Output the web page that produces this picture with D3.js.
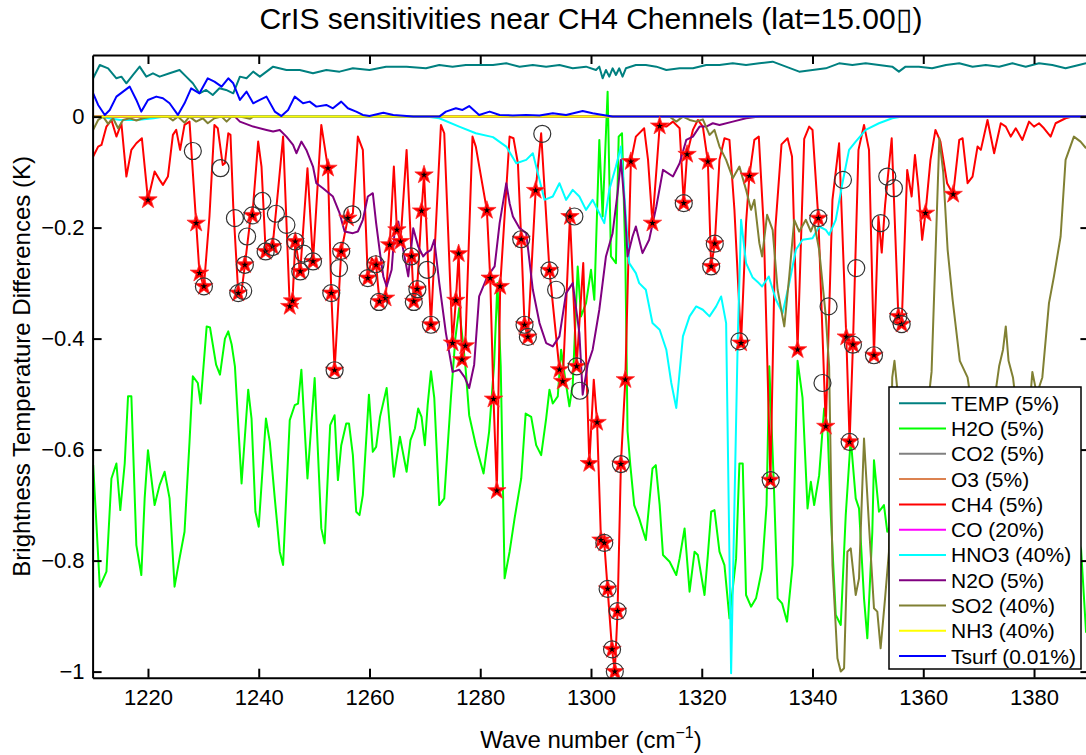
<!DOCTYPE html>
<html>
<head>
<meta charset="utf-8">
<script src="https://cdn.jsdelivr.net/npm/d3@7"></script>
<style>
  body { margin: 0; background: #fff; }
  text { font-family: 'Liberation Sans', Arial, Helvetica, sans-serif; }
</style>
</head>
<body>
<div id="chart"></div>
<script>
// wave number (cm-1), brightness temperature difference (K)
const tempData = [[1210.1,0.069],[1211.3,0.093],[1212.8,0.087],[1214.3,0.069],[1215.2,0.072],[1216.1,0.060],[1217.3,0.075],[1218.5,0.090],[1219.7,0.072],[1220.9,0.078],[1222.1,0.072],[1223.9,0.078],[1225.7,0.084],[1226.9,0.072],[1228.1,0.060],[1229.3,0.042],[1230.5,0.048],[1231.7,0.039],[1232.9,0.051],[1234.1,0.048],[1235.4,0.042],[1236.6,0.072],[1237.8,0.069],[1239.0,0.081],[1240.2,0.072],[1242.6,0.090],[1245.0,0.084],[1247.4,0.084],[1249.8,0.078],[1252.2,0.084],[1254.6,0.081],[1257.0,0.087],[1260.0,0.084],[1263.0,0.090],[1266.7,0.090],[1270.2,0.087],[1272.6,0.093],[1275.0,0.090],[1277.4,0.093],[1279.8,0.093],[1282.3,0.093],[1284.7,0.096],[1287.1,0.090],[1289.5,0.093],[1291.9,0.090],[1294.3,0.093],[1296.7,0.087],[1299.1,0.090],[1300.9,0.084],[1301.5,0.090],[1302.1,0.069],[1302.7,0.084],[1303.3,0.072],[1303.9,0.087],[1304.5,0.075],[1305.1,0.087],[1305.7,0.072],[1306.3,0.087],[1308.1,0.093],[1309.9,0.093],[1311.8,0.090],[1313.6,0.084],[1316.0,0.087],[1318.4,0.087],[1320.8,0.093],[1323.2,0.093],[1325.6,0.096],[1328.0,0.093],[1330.4,0.096],[1332.8,0.099],[1335.2,0.090],[1337.6,0.081],[1340.0,0.084],[1342.4,0.087],[1344.8,0.096],[1347.2,0.093],[1349.6,0.096],[1352.0,0.093],[1354.4,0.090],[1355.6,0.081],[1356.8,0.090],[1359.2,0.090],[1361.6,0.087],[1364.1,0.093],[1366.5,0.096],[1368.9,0.090],[1371.3,0.093],[1373.7,0.090],[1376.1,0.096],[1378.5,0.090],[1380.9,0.096],[1383.3,0.093],[1385.7,0.087],[1388.1,0.093],[1389.4,0.096]];

const h2oData = [[1210.1,-0.628],[1210.7,-0.736],[1211.3,-0.847],[1212.5,-0.820],[1213.4,-0.652],[1214.3,-0.625],[1215.0,-0.709],[1215.8,-0.625],[1216.4,-0.504],[1217.0,-0.504],[1217.9,-0.772],[1218.8,-0.826],[1219.4,-0.688],[1220.0,-0.601],[1221.2,-0.700],[1222.1,-0.664],[1223.0,-0.640],[1223.9,-0.688],[1224.8,-0.847],[1225.7,-0.796],[1226.6,-0.748],[1227.5,-0.586],[1228.1,-0.468],[1229.0,-0.480],[1229.5,-0.517],[1230.6,-0.378],[1231.2,-0.380],[1232.3,-0.447],[1233.0,-0.465],[1233.9,-0.400],[1234.5,-0.387],[1235.1,-0.410],[1235.7,-0.450],[1236.9,-0.661],[1238.1,-0.492],[1238.7,-0.544],[1239.4,-0.712],[1240.0,-0.739],[1241.3,-0.544],[1242.0,-0.586],[1242.9,-0.688],[1243.8,-0.784],[1244.4,-0.808],[1245.6,-0.547],[1246.5,-0.520],[1247.1,-0.517],[1247.7,-0.456],[1248.8,-0.652],[1250.1,-0.471],[1251.3,-0.742],[1251.9,-0.769],[1252.9,-0.556],[1253.7,-0.538],[1254.3,-0.655],[1254.9,-0.592],[1255.8,-0.553],[1256.3,-0.553],[1257.0,-0.610],[1257.6,-0.712],[1258.2,-0.718],[1258.8,-0.682],[1259.9,-0.501],[1260.6,-0.604],[1261.2,-0.595],[1261.9,-0.541],[1263.1,-0.489],[1264.4,-0.649],[1265.5,-0.577],[1266.7,-0.640],[1267.4,-0.583],[1268.2,-0.562],[1268.8,-0.526],[1269.4,-0.541],[1270.0,-0.592],[1270.5,-0.520],[1271.1,-0.459],[1271.7,-0.507],[1272.6,-0.700],[1273.5,-0.688],[1274.7,-0.507],[1275.5,-0.400],[1276.2,-0.345],[1276.8,-0.400],[1277.3,-0.447],[1278.0,-0.538],[1279.2,-0.592],[1280.6,-0.643],[1281.6,-0.568],[1282.5,-0.447],[1283.1,-0.300],[1283.7,-0.450],[1284.4,-0.832],[1285.3,-0.784],[1286.2,-0.724],[1287.4,-0.652],[1288.2,-0.535],[1289.2,-0.541],[1290.1,-0.592],[1291.0,-0.610],[1291.9,-0.544],[1292.5,-0.492],[1293.1,-0.517],[1294.0,-0.504],[1294.6,-0.420],[1295.5,-0.483],[1296.1,-0.522],[1296.7,-0.483],[1297.6,-0.270],[1298.2,-0.360],[1299.1,-0.336],[1300.0,-0.276],[1300.6,-0.330],[1301.5,-0.042],[1302.1,-0.180],[1303.0,0.045],[1303.6,-0.252],[1304.5,-0.264],[1305.0,-0.036],[1305.6,-0.030],[1306.2,-0.252],[1306.6,-0.567],[1307.1,-0.628],[1307.8,-0.700],[1308.7,-0.724],[1309.9,-0.763],[1311.1,-0.634],[1311.7,-0.628],[1312.4,-0.700],[1313.0,-0.790],[1314.2,-0.802],[1315.4,-0.826],[1316.0,-0.796],[1316.9,-0.742],[1317.8,-0.856],[1318.7,-0.784],[1319.3,-0.790],[1320.5,-0.862],[1321.1,-0.790],[1321.7,-0.712],[1322.3,-0.709],[1323.2,-0.784],[1324.1,-0.808],[1325.0,-0.904],[1326.2,-0.796],[1326.8,-0.625],[1327.4,-0.625],[1328.0,-0.862],[1328.9,-0.883],[1329.8,-0.868],[1330.3,-0.844],[1330.9,-0.814],[1331.7,-0.700],[1332.2,-0.450],[1333.0,-0.658],[1333.7,-0.868],[1334.5,-0.877],[1335.4,-0.910],[1336.4,-0.808],[1337.3,-0.440],[1338.2,-0.507],[1339.1,-0.706],[1339.7,-0.658],[1340.3,-0.700],[1341.2,-0.646],[1342.1,-0.526],[1342.7,-0.556],[1343.3,-0.718],[1344.2,-0.898],[1345.1,-0.916],[1346.0,-0.718],[1346.9,-0.580],[1347.8,-0.688],[1348.4,-0.706],[1349.3,-0.868],[1349.9,-0.940],[1350.8,-0.748],[1351.1,-0.619],[1352.0,-0.712],[1352.9,-0.700],[1353.5,-0.748],[1355.0,-0.720],[1357.0,-0.780],[1359.5,-0.700],[1362.0,-0.760],[1365.0,-0.700],[1368.0,-0.780],[1371.0,-0.720],[1374.0,-0.800],[1377.0,-0.740],[1380.0,-0.820],[1383.0,-0.760],[1386.0,-0.700],[1388.5,-0.780],[1389.4,-0.930]];

const co2Data = [[1210,0],[1390,0]];
const o3Data = [[1210,0],[1390,0]];

const ch4Data = [[1210.1,-0.072],[1211.0,-0.054],[1211.6,-0.051],[1212.5,-0.018],[1213.4,-0.006],[1214.3,-0.036],[1215.2,-0.012],[1216.1,-0.108],[1217.0,-0.060],[1217.9,-0.048],[1218.9,-0.039],[1220.0,-0.150],[1221.2,-0.099],[1222.1,-0.114],[1222.7,-0.123],[1223.6,-0.108],[1224.5,-0.033],[1225.1,-0.024],[1225.8,-0.060],[1226.6,-0.015],[1227.5,-0.009],[1228.7,-0.192],[1229.3,-0.282],[1230.1,-0.306],[1231.1,-0.180],[1232.0,-0.015],[1232.6,-0.021],[1233.5,-0.087],[1233.9,-0.084],[1234.5,-0.030],[1234.9,-0.033],[1235.4,-0.162],[1236.3,-0.318],[1236.9,-0.315],[1237.5,-0.267],[1238.4,-0.192],[1238.85,-0.178],[1239.9,-0.045],[1240.5,-0.090],[1241.25,-0.243],[1242.5,-0.234],[1243.5,-0.132],[1244.4,-0.036],[1245.6,-0.342],[1246.1,-0.332],[1246.6,-0.225],[1247.5,-0.279],[1248.8,-0.093],[1249.8,-0.261],[1251.3,-0.015],[1252.5,-0.093],[1253.1,-0.318],[1253.7,-0.457],[1254.9,-0.243],[1256.1,-0.183],[1257.0,-0.174],[1257.9,-0.036],[1258.8,-0.060],[1259.7,-0.291],[1260.4,-0.255],[1261.2,-0.267],[1261.8,-0.333],[1262.9,-0.327],[1263.65,-0.231],[1264.4,-0.090],[1264.95,-0.204],[1265.6,-0.225],[1266.7,-0.060],[1267.6,-0.252],[1268.0,-0.333],[1268.6,-0.311],[1269.4,-0.170],[1269.85,-0.105],[1271.1,-0.375],[1272.9,-0.015],[1273.5,-0.030],[1275.0,-0.408],[1275.6,-0.331],[1276.1,-0.247],[1276.7,-0.438],[1277.3,-0.413],[1278.6,-0.036],[1279.2,-0.054],[1281.2,-0.169],[1281.8,-0.291],[1282.4,-0.509],[1283.0,-0.674],[1283.6,-0.306],[1285.3,-0.036],[1286.0,-0.039],[1286.8,-0.084],[1287.4,-0.221],[1288.0,-0.375],[1288.6,-0.397],[1290.0,-0.133],[1291.0,-0.030],[1292.5,-0.277],[1294.3,-0.456],[1294.9,-0.477],[1296.2,-0.180],[1297.4,-0.450],[1298.6,-0.264],[1299.7,-0.625],[1300.5,-0.474],[1301.1,-0.551],[1301.8,-0.763],[1302.4,-0.768],[1303.0,-0.851],[1303.8,-0.960],[1304.3,-1.000],[1304.8,-0.891],[1305.4,-0.626],[1306.2,-0.474],[1307.2,-0.081],[1308.1,-0.036],[1309.6,-0.021],[1310.3,-0.078],[1311.1,-0.192],[1312.4,-0.017],[1313.6,-0.018],[1314.8,-0.009],[1316.0,-0.021],[1316.75,-0.156],[1317.35,-0.068],[1318.4,-0.024],[1319.3,-0.006],[1320.2,-0.018],[1321.1,-0.081],[1321.7,-0.270],[1322.35,-0.229],[1323.2,-0.078],[1324.1,-0.039],[1325.0,-0.042],[1325.9,-0.168],[1327.1,-0.408],[1328.0,-0.192],[1328.6,-0.107],[1329.5,-0.042],[1330.3,-0.036],[1331.2,-0.200],[1332.4,-0.655],[1333.3,-0.200],[1334.4,-0.050],[1335.5,-0.039],[1336.3,-0.072],[1337.3,-0.420],[1338.5,-0.040],[1339.4,-0.018],[1340.0,-0.024],[1341.05,-0.183],[1342.4,-0.558],[1343.6,-0.150],[1344.8,-0.048],[1346.1,-0.397],[1346.7,-0.586],[1347.3,-0.411],[1348.3,-0.060],[1349.3,-0.015],[1350.2,-0.060],[1351.1,-0.430],[1351.9,-0.180],[1352.5,-0.245],[1353.1,-0.160],[1354.3,-0.039],[1355.5,-0.360],[1356.1,-0.374],[1357.1,-0.096],[1357.9,-0.144],[1358.5,-0.069],[1359.1,-0.126],[1359.8,-0.222],[1360.4,-0.174],[1361.3,-0.078],[1362.2,-0.024],[1363.1,-0.045],[1364.3,-0.120],[1365.4,-0.140],[1366.5,-0.042],[1367.1,-0.039],[1368.0,-0.120],[1368.9,-0.108],[1369.8,-0.054],[1370.4,-0.060],[1371.6,-0.006],[1372.8,-0.066],[1374.0,-0.012],[1374.9,-0.018],[1375.8,-0.036],[1376.7,-0.021],[1377.9,-0.042],[1379.1,-0.009],[1380.0,-0.018],[1380.9,-0.012],[1381.8,-0.021],[1383.0,-0.036],[1383.9,-0.012],[1385.7,-0.003],[1386.9,0],[1389.4,0]];

const coData = [[1210,0],[1390,0]];

const hno3Data = [[1210,0],[1212.5,-0.002],[1215,-0.006],[1218,-0.006],[1221,-0.003],[1223,0],[1270.2,0],[1272.6,-0.003],[1276.2,-0.018],[1279.2,-0.030],[1282.3,-0.037],[1284.7,-0.054],[1286.5,-0.084],[1288.3,-0.078],[1289.5,-0.066],[1290.7,-0.114],[1291.6,-0.150],[1293.1,-0.144],[1294.3,-0.120],[1295.5,-0.150],[1296.7,-0.132],[1297.9,-0.144],[1299.1,-0.168],[1300.3,-0.150],[1301.5,-0.174],[1302.4,-0.192],[1303.3,-0.132],[1304.5,-0.090],[1305.4,-0.054],[1306.3,-0.180],[1306.9,-0.264],[1308.1,-0.282],[1308.7,-0.300],[1309.9,-0.312],[1311.1,-0.372],[1312.4,-0.384],[1313.6,-0.420],[1314.5,-0.480],[1315.4,-0.525],[1316.6,-0.396],[1317.8,-0.360],[1319.0,-0.342],[1320.2,-0.348],[1321.4,-0.360],[1322.6,-0.342],[1323.5,-0.324],[1324.4,-0.372],[1325.3,-1.003],[1326.5,-0.400],[1327.1,-0.186],[1328.0,-0.264],[1329.2,-0.290],[1330.3,-0.300],[1330.9,-0.306],[1332.1,-0.288],[1333.4,-0.330],[1334.6,-0.354],[1335.8,-0.300],[1337.0,-0.240],[1338.2,-0.222],[1340.0,-0.219],[1341.2,-0.198],[1342.4,-0.204],[1343.0,-0.213],[1344.2,-0.186],[1345.4,-0.120],[1346.6,-0.060],[1347.8,-0.045],[1349.6,-0.024],[1352.0,-0.012],[1354.4,-0.003],[1356.2,0],[1390,0]];

const n2oData = [[1210,0],[1235.7,0],[1236.6,-0.009],[1239.0,-0.018],[1241.4,-0.024],[1242.6,-0.027],[1243.8,-0.024],[1245.0,-0.036],[1246.2,-0.051],[1246.8,-0.066],[1247.7,-0.045],[1248.6,-0.060],[1249.8,-0.090],[1250.4,-0.120],[1251.6,-0.129],[1253.4,-0.144],[1254.6,-0.174],[1255.5,-0.207],[1257.0,-0.210],[1257.9,-0.207],[1258.8,-0.186],[1259.7,-0.144],[1260.6,-0.138],[1261.2,-0.192],[1261.9,-0.246],[1262.5,-0.288],[1263.1,-0.306],[1264.0,-0.276],[1264.6,-0.198],[1265.2,-0.189],[1266.1,-0.240],[1267.0,-0.288],[1267.9,-0.201],[1268.8,-0.234],[1269.7,-0.252],[1270.2,-0.246],[1271.1,-0.240],[1271.7,-0.222],[1272.6,-0.300],[1273.8,-0.390],[1275.0,-0.460],[1276.2,-0.456],[1277.2,-0.470],[1278.0,-0.489],[1278.9,-0.447],[1279.8,-0.324],[1281.3,-0.288],[1282.6,-0.270],[1283.5,-0.192],[1284.7,-0.120],[1285.3,-0.156],[1285.9,-0.180],[1287.1,-0.201],[1288.3,-0.210],[1289.5,-0.312],[1290.7,-0.372],[1291.9,-0.408],[1293.1,-0.414],[1294.3,-0.396],[1295.5,-0.318],[1296.7,-0.300],[1297.9,-0.390],[1298.5,-0.501],[1299.4,-0.447],[1300.3,-0.420],[1301.5,-0.348],[1302.7,-0.252],[1303.9,-0.210],[1304.8,-0.138],[1305.4,-0.078],[1306.0,-0.150],[1306.6,-0.252],[1307.5,-0.216],[1308.1,-0.198],[1309.3,-0.246],[1310.5,-0.222],[1311.8,-0.162],[1313.0,-0.096],[1314.8,-0.108],[1316.0,-0.084],[1317.2,-0.042],[1318.4,-0.036],[1319.6,-0.018],[1320.8,-0.018],[1322.0,-0.012],[1323.2,-0.015],[1325.6,-0.009],[1328.0,-0.003],[1330.4,0],[1390,0]];

const so2Data = [[1210.1,-0.024],[1211.0,-0.006],[1211.9,0],[1212.8,-0.013],[1213.7,-0.003],[1214.6,-0.021],[1215.5,-0.006],[1216.7,-0.003],[1217.9,-0.007],[1219.1,-0.003],[1220.9,0],[1223.6,0],[1224.5,-0.007],[1225.4,0],[1226.6,-0.011],[1227.5,0],[1228.7,-0.009],[1229.9,-0.003],[1230.8,-0.012],[1232.0,-0.003],[1233.3,0],[1234.2,-0.009],[1235.1,0],[1236.6,0],[1238.4,-0.004],[1239.0,0],[1314.2,0],[1315.4,-0.009],[1316.6,0],[1317.8,-0.006],[1319.0,-0.009],[1320.2,-0.005],[1321.4,-0.033],[1322.3,-0.024],[1323.2,-0.054],[1324.4,-0.078],[1325.6,-0.111],[1326.8,-0.090],[1328.0,-0.132],[1328.9,-0.168],[1329.5,-0.150],[1330.4,-0.228],[1330.9,-0.252],[1331.8,-0.177],[1332.8,-0.204],[1333.7,-0.312],[1334.9,-0.378],[1335.8,-0.288],[1336.7,-0.186],[1337.6,-0.207],[1338.8,-0.186],[1339.7,-0.207],[1340.3,-0.192],[1341.2,-0.240],[1342.4,-0.360],[1343.0,-0.450],[1343.6,-0.808],[1344.5,-0.976],[1345.1,-1.000],[1345.7,-0.994],[1346.3,-0.784],[1346.9,-0.778],[1347.8,-0.862],[1348.4,-0.832],[1349.3,-0.580],[1350.2,-0.736],[1351.1,-0.886],[1351.7,-0.892],[1352.3,-0.958],[1353.1,-0.868],[1353.8,-0.784],[1354.4,-0.470],[1354.8,-0.440],[1355.4,-0.500],[1357.0,-0.600],[1359.0,-0.620],[1360.5,-0.550],[1361.5,-0.460],[1362.2,-0.250],[1362.9,-0.039],[1363.6,-0.100],[1364.4,-0.240],[1365.3,-0.330],[1366.6,-0.440],[1368.0,-0.470],[1369.2,-0.550],[1371.0,-0.620],[1373.0,-0.500],[1373.7,-0.450],[1374.4,-0.420],[1374.9,-0.378],[1375.4,-0.440],[1376.2,-0.470],[1377.5,-0.580],[1379.0,-0.550],[1379.7,-0.460],[1380.5,-0.500],[1381.5,-0.470],[1382.7,-0.336],[1383.6,-0.288],[1384.8,-0.216],[1385.7,-0.078],[1387.2,-0.036],[1388.4,-0.045],[1389.4,-0.057]];

const nh3Data = [[1210,0],[1390,0]];

const tsurfData = [[1210.1,0.042],[1211.0,0.021],[1212.2,0.003],[1213.1,0.012],[1214.3,0.036],[1215.5,0.045],[1216.7,0.054],[1217.9,0.030],[1218.8,0.009],[1220.0,0.030],[1221.5,0.036],[1222.7,0.033],[1223.9,0.024],[1225.4,0.003],[1226.6,0.024],[1227.8,0.051],[1229.3,0.042],[1230.8,0.069],[1232.0,0.063],[1233.3,0.054],[1234.5,0.069],[1235.4,0.060],[1236.6,0.030],[1237.8,0.045],[1239.0,0.024],[1240.2,0.030],[1241.4,0.036],[1242.9,0.009],[1244.1,0.001],[1245.3,0.012],[1246.5,0.036],[1248.0,0.024],[1249.2,0.027],[1250.4,0.018],[1252.2,0.021],[1253.4,0.015],[1254.9,0.027],[1256.1,0.015],[1257.6,0.009],[1258.8,0.003],[1260.0,0.001],[1262.5,0.007],[1264.3,0.003],[1265.5,0.002],[1267.9,0],[1272.6,0],[1273.8,0.009],[1275.6,0.015],[1276.8,0.012],[1278.0,0.019],[1279.8,0.003],[1281.7,0.009],[1283.5,0.003],[1285.9,0.002],[1288.3,0.003],[1290.7,0.002],[1293.1,0.006],[1295.5,0.003],[1298.5,0.010],[1300.3,0.006],[1302.7,0.002],[1303.9,0],[1390,0]];

// selected CH4 channels (stars) and second channel set (circles)
const starData = [[1220.0,-0.150],[1228.7,-0.192],[1229.3,-0.282],[1230.1,-0.306],[1236.3,-0.318],[1237.5,-0.267],[1238.85,-0.178],[1241.25,-0.243],[1242.5,-0.234],[1245.6,-0.342],[1246.1,-0.332],[1246.6,-0.225],[1247.5,-0.279],[1249.8,-0.261],[1252.5,-0.093],[1253.1,-0.318],[1253.7,-0.457],[1254.9,-0.243],[1256.1,-0.183],[1259.7,-0.291],[1261.2,-0.267],[1261.8,-0.333],[1262.9,-0.327],[1263.65,-0.231],[1264.95,-0.204],[1265.6,-0.225],[1267.6,-0.252],[1268.0,-0.333],[1268.6,-0.311],[1269.4,-0.170],[1269.85,-0.105],[1271.1,-0.375],[1275.0,-0.408],[1275.6,-0.331],[1276.1,-0.247],[1276.7,-0.438],[1277.3,-0.413],[1281.2,-0.169],[1281.8,-0.291],[1282.4,-0.509],[1283.0,-0.674],[1283.6,-0.306],[1287.4,-0.221],[1288.0,-0.375],[1288.6,-0.397],[1290.0,-0.133],[1292.5,-0.277],[1294.3,-0.456],[1294.9,-0.477],[1296.2,-0.180],[1297.4,-0.450],[1299.7,-0.625],[1301.1,-0.551],[1301.8,-0.763],[1302.4,-0.768],[1303.0,-0.851],[1303.8,-0.960],[1304.3,-1.000],[1304.8,-0.891],[1305.4,-0.626],[1306.2,-0.474],[1307.2,-0.081],[1311.1,-0.192],[1312.4,-0.017],[1316.75,-0.156],[1317.35,-0.068],[1321.1,-0.081],[1321.7,-0.270],[1322.35,-0.229],[1327.1,-0.408],[1328.6,-0.107],[1332.4,-0.655],[1337.3,-0.420],[1341.05,-0.183],[1342.4,-0.558],[1346.1,-0.397],[1346.7,-0.586],[1347.3,-0.411],[1351.1,-0.430],[1355.5,-0.360],[1356.1,-0.374],[1360.4,-0.174],[1365.4,-0.140]];

const circleData = [[1228.1,-0.062],[1230.1,-0.306],[1233.1,-0.093],[1235.7,-0.183],[1236.3,-0.318],[1237.2,-0.314],[1237.5,-0.267],[1237.9,-0.216],[1238.85,-0.178],[1240.65,-0.152],[1241.25,-0.243],[1242.5,-0.235],[1243.1,-0.175],[1245.0,-0.195],[1246.6,-0.225],[1247.5,-0.279],[1248.1,-0.247],[1249.8,-0.261],[1253.1,-0.318],[1253.7,-0.457],[1254.5,-0.273],[1254.9,-0.242],[1256.9,-0.176],[1259.7,-0.291],[1261.1,-0.266],[1261.7,-0.334],[1267.5,-0.252],[1268.0,-0.334],[1268.65,-0.311],[1270.4,-0.276],[1271.1,-0.375],[1287.4,-0.221],[1288.0,-0.375],[1288.6,-0.397],[1291.2,-0.031],[1292.5,-0.277],[1293.7,-0.312],[1297.0,-0.180],[1297.4,-0.450],[1298.0,-0.494],[1302.4,-0.768],[1303.0,-0.851],[1303.8,-0.960],[1304.3,-1.000],[1304.8,-0.891],[1305.4,-0.626],[1316.75,-0.156],[1321.7,-0.270],[1322.35,-0.229],[1326.8,-0.405],[1332.45,-0.655],[1341.05,-0.183],[1341.8,-0.480],[1342.9,-0.342],[1345.5,-0.114],[1346.7,-0.586],[1347.3,-0.411],[1347.9,-0.273],[1351.1,-0.430],[1352.3,-0.192],[1353.5,-0.108],[1354.7,-0.129],[1355.5,-0.360],[1356.1,-0.374]];

const legendNames = ['TEMP (5%)', 'H2O (5%)', 'CO2 (5%)', 'O3 (5%)', 'CH4 (5%)', 'CO (20%)', 'HNO3 (40%)', 'N2O (5%)', 'SO2 (40%)', 'NH3 (40%)', 'Tsurf (0.01%)'];
const seriesColors = ['#008080', '#00ff00', '#808080', '#dc8250', '#ff0000', '#ff00ff', '#00ffff', '#800080', '#808033', '#ffff00', '#0000ff'];
const xTicks = [1220, 1240, 1260, 1280, 1300, 1320, 1340, 1360, 1380];
const yTicks = [-1, -0.8, -0.6, -0.4, -0.2, 0];

const allSeries = [tempData, h2oData, co2Data, o3Data, ch4Data, coData, hno3Data, n2oData, so2Data, nh3Data, tsurfData];

const width = 1086;
const height = 755;
const plotLeft = 92.6, plotRight = 1089.4, plotTop = 55, plotBottom = 677.7;

const svg = d3.select('#chart')
    .append('svg')
    .attr('width', width)
    .attr('height', height);

const xScale = d3.scaleLinear().domain([1210, 1390]).range([plotLeft, plotRight]);
const yScale = d3.scaleLinear().domain([-1.011, 0.111]).range([plotBottom, plotTop]);

svg.append('clipPath').attr('id', 'plotClip')
    .append('rect')
    .attr('x', plotLeft).attr('y', plotTop)
    .attr('width', plotRight - plotLeft).attr('height', plotBottom - plotTop);

const line = d3.line()
    .x(d => xScale(d[0]))
    .y(d => yScale(d[1]));

const plot = svg.append('g').attr('clip-path', 'url(#plotClip)');

allSeries.forEach((s, i) => {
    plot.append('path')
        .datum(s)
        .attr('fill', 'none')
        .attr('stroke', seriesColors[i])
        .attr('stroke-width', 2)
        .attr('stroke-linejoin', 'round')
        .attr('d', line);
});

/* star markers */
plot.selectAll('.star')
    .data(starData)
    .enter()
    .append('path')
    .attr('class', 'star')
    .attr('transform', d => `translate(${xScale(d[0])},${yScale(d[1])})`)
    .attr('d', d3.symbol().type(d3.symbolStar).size(105))
    .attr('fill', '#ff0000')
    .attr('stroke', '#ff3030')
    .attr('stroke-width', 0.8);

plot.selectAll('.starIn')
    .data(starData)
    .enter()
    .append('path')
    .attr('class', 'starIn')
    .attr('transform', d => `translate(${xScale(d[0])},${yScale(d[1])})`)
    .attr('d', d3.symbol().type(d3.symbolStar).size(14))
    .attr('fill', '#000');

/* circle markers */
plot.selectAll('.ring')
    .data(circleData)
    .enter()
    .append('circle')
    .attr('class', 'ring')
    .attr('cx', d => xScale(d[0]))
    .attr('cy', d => yScale(d[1]))
    .attr('r', 8.5)
    .attr('fill', 'none')
    .attr('stroke', '#333')
    .attr('stroke-width', 1.2);

/* axes */
const fmt = d => d === 0 ? '0' : (d === -1 ? '\u22121' : d3.format('.1f')(d));

const xAxis = svg.append('g')
    .attr('transform', `translate(0,${plotBottom})`)
    .call(d3.axisBottom(xScale).tickValues(xTicks).tickSizeInner(-9).tickSizeOuter(0).tickPadding(12).tickFormat(d3.format('d')));
const xTop = svg.append('g')
    .attr('transform', `translate(0,${plotTop})`)
    .call(d3.axisTop(xScale).tickValues(xTicks).tickSizeInner(-9).tickSizeOuter(0).tickFormat(''));
const yAxis = svg.append('g')
    .attr('transform', `translate(${plotLeft},0)`)
    .call(d3.axisLeft(yScale).tickValues(yTicks).tickSizeInner(-9).tickSizeOuter(0).tickPadding(8).tickFormat(fmt));
const yRight = svg.append('g')
    .attr('transform', `translate(${plotRight},0)`)
    .call(d3.axisRight(yScale).tickValues(yTicks).tickSizeInner(-9).tickSizeOuter(0).tickFormat(''));

[xAxis, xTop, yAxis, yRight].forEach(g => {
    g.select('.domain').attr('stroke', '#000').attr('stroke-width', 2);
    g.selectAll('.tick line').attr('stroke', '#000').attr('stroke-width', 2);
    g.selectAll('text')
        .attr('fill', '#000')
        .style('font-size', '22px')
        .style('font-family', "'Liberation Sans', Arial, sans-serif");
});

/* title */
svg.append('text')
    .text('CrIS sensitivities near CH4 Chennels (lat=15.00\u25AF)')
    .attr('x', (plotLeft + plotRight) / 2)
    .attr('y', 29)
    .attr('text-anchor', 'middle')
    .style('font-size', '30px');

/* x label */
const xl = svg.append('text')
    .attr('x', (plotLeft + plotRight) / 2)
    .attr('y', 748)
    .attr('text-anchor', 'middle')
    .style('font-size', '24px');
xl.append('tspan').text('Wave number (cm');
xl.append('tspan').text('\u22121').attr('dy', -10).style('font-size', '16px');
xl.append('tspan').text(')').attr('dy', 10);

/* y label */
svg.append('text')
    .text('Brightness Temperature Differences (K)')
    .attr('transform', `translate(30,${(plotTop + plotBottom) / 2}) rotate(-90)`)
    .attr('text-anchor', 'middle')
    .style('font-size', '24px');

/* legend */
const lg = svg.append('g');
lg.append('rect')
    .attr('x', 889).attr('y', 387)
    .attr('width', 192).attr('height', 282)
    .attr('fill', '#fff')
    .attr('stroke', '#000')
    .attr('stroke-width', 1.5);

legendNames.forEach((name, i) => {
    const yy = 403.3 + i * 25.27;
    lg.append('line')
        .attr('x1', 899).attr('x2', 946)
        .attr('y1', yy).attr('y2', yy)
        .attr('stroke', seriesColors[i])
        .attr('stroke-width', 2);
    lg.append('text')
        .text(name)
        .attr('x', 951)
        .attr('y', yy + 7.5)
        .style('font-size', '21px');
});
</script>
</body>
</html>
